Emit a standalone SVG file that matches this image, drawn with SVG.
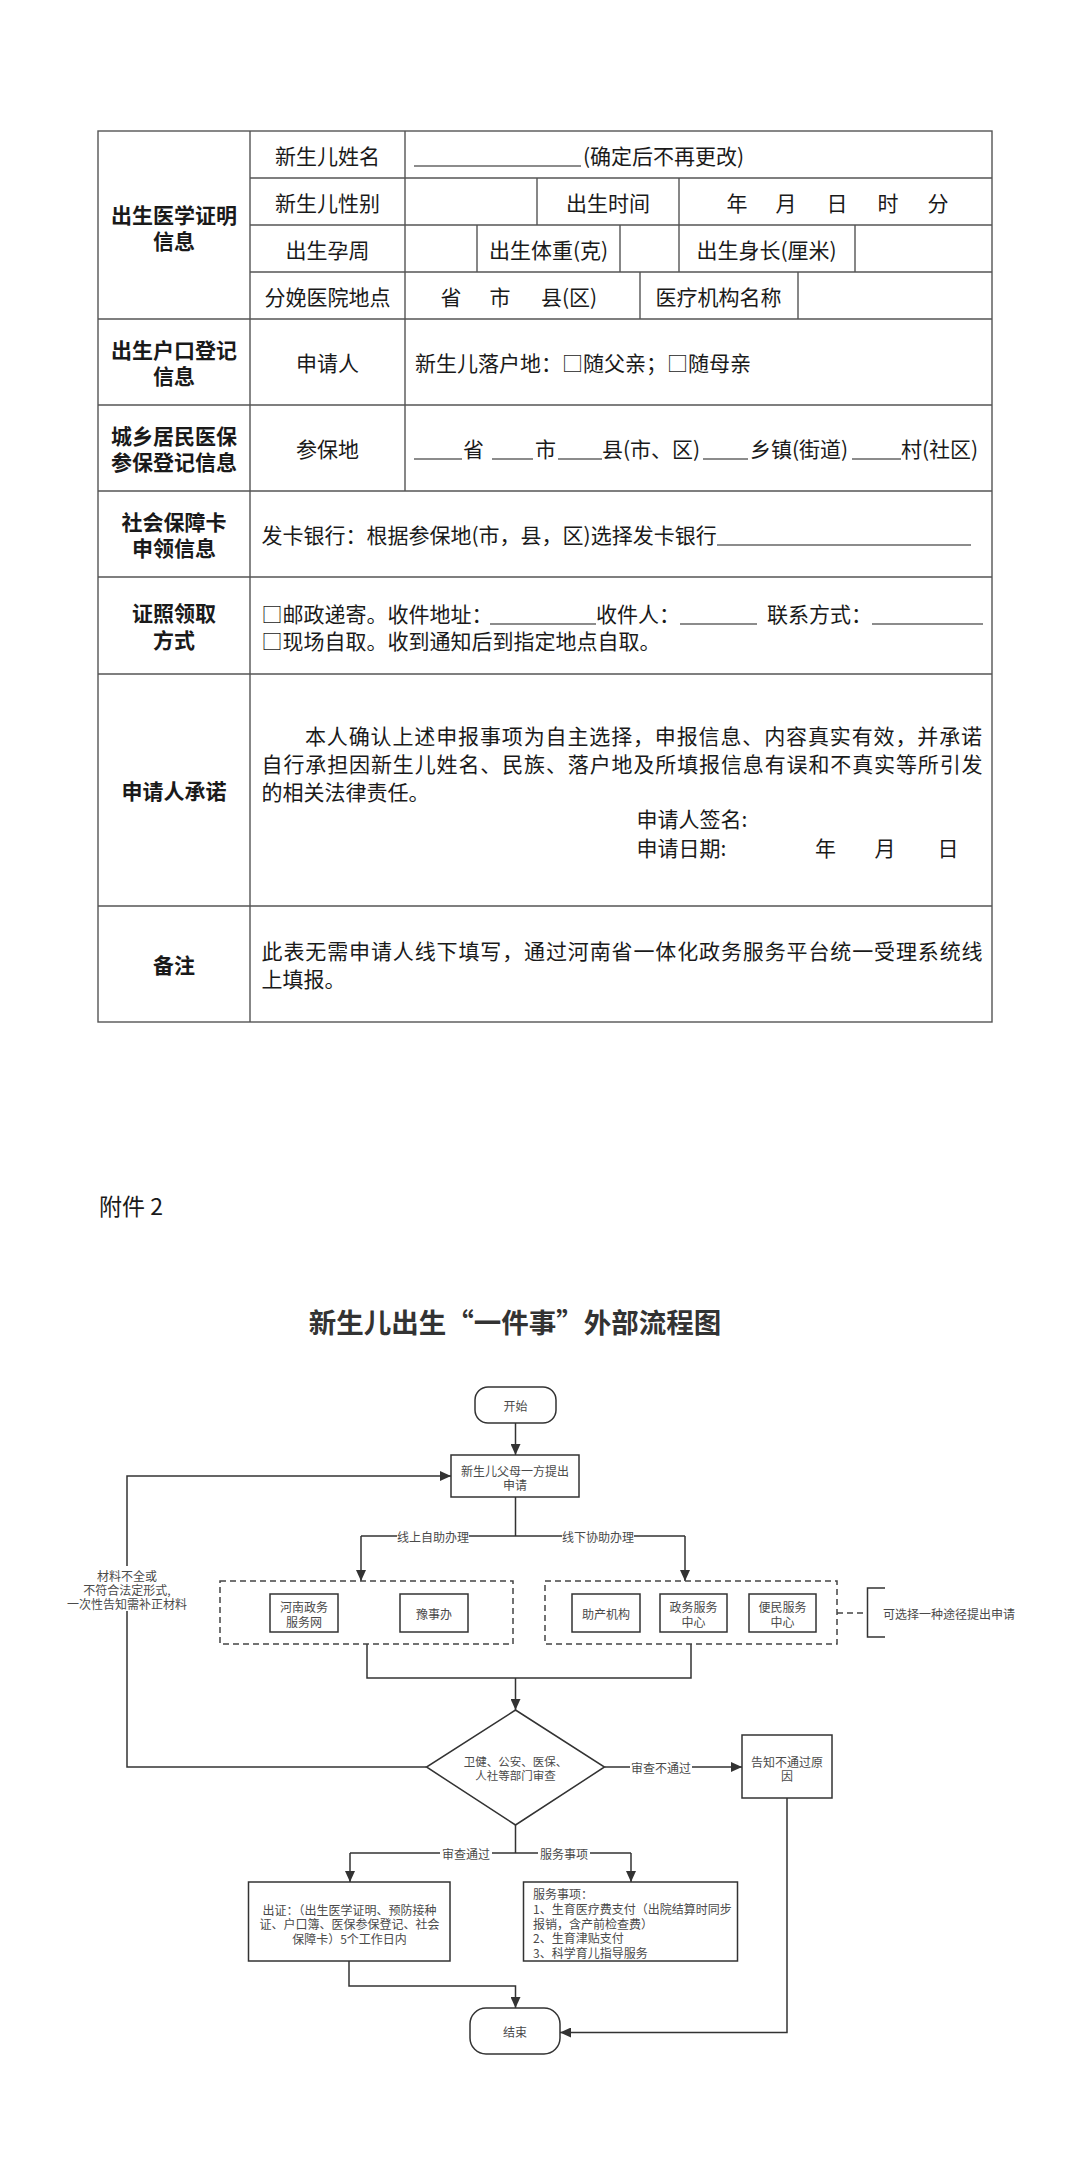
<svg xmlns="http://www.w3.org/2000/svg" width="1080" height="2167" viewBox="0 0 1080 2167">
<style>
text { font-family: "Noto Sans CJK SC", "Liberation Sans", sans-serif; dominant-baseline: central; }
.t { font-size: 21px; fill: #1a1a1a; }
.b { font-weight: bold; }
.m { text-anchor: middle; }
.grid { stroke: #555; stroke-width: 1.4; fill: none; }
.ul { stroke: #1a1a1a; stroke-width: 1.1; }
.f { font-size: 12px; fill: #4a4a4a; }
.node { fill: #fff; stroke: #333; stroke-width: 1.5; }
.dash { fill: none; stroke: #444; stroke-width: 1.5; stroke-dasharray: 6 4; }
.edge { fill: none; stroke: #333; stroke-width: 1.5; }
.lbg { fill: #fff; }
</style>
<defs>
<marker id="arr" markerUnits="userSpaceOnUse" markerWidth="12" markerHeight="10" refX="11" refY="5" orient="auto">
<path d="M0,0 L11,5 L0,10 Z" fill="#333"/>
</marker>
</defs>
<rect width="1080" height="2167" fill="#fff"/>

<g id="form-table">
<rect class="grid" x="98" y="131" width="894" height="891"/>
<path class="grid" d="M98,319H992 M98,405H992 M98,491H992 M98,577H992 M98,674H992 M98,906H992 M250,178H992 M250,225H992 M250,272H992 M250,131V1022 M405,131V491 M537,178V225 M679,178V225 M477,225V272 M620,225V272 M679,225V272 M855,225V272 M640,272V319 M798,272V319"/>

<text class="t b m" x="174" y="214">出生医学证明</text>
<text class="t b m" x="174" y="240">信息</text>
<text class="t m" x="327.5" y="155">新生儿姓名</text>
<line class="ul" x1="414" y1="166" x2="581" y2="166"/>
<text class="t" x="583" y="155">(确定后不再更改)</text>
<text class="t m" x="327.5" y="201.5">新生儿性别</text>
<text class="t m" x="608" y="201.5">出生时间</text>
<text class="t m" x="737" y="201.5">年</text>
<text class="t m" x="786" y="201.5">月</text>
<text class="t m" x="837" y="201.5">日</text>
<text class="t m" x="888" y="201.5">时</text>
<text class="t m" x="938" y="201.5">分</text>
<text class="t m" x="327.5" y="248.5">出生孕周</text>
<text class="t m" x="548.5" y="248.5">出生体重(克)</text>
<text class="t m" x="766.5" y="248.5">出生身长(厘米)</text>
<text class="t m" x="327.5" y="295.5">分娩医院地点</text>
<text class="t m" x="451" y="295.5">省</text>
<text class="t m" x="500" y="295.5">市</text>
<text class="t" x="541" y="295.5">县(区)</text>
<text class="t m" x="718.5" y="295.5">医疗机构名称</text>

<text class="t b m" x="174" y="349">出生户口登记</text>
<text class="t b m" x="174" y="375">信息</text>
<text class="t m" x="327.5" y="362">申请人</text>
<text class="t" x="415" y="362">新生儿落户地：□随父亲；□随母亲</text>

<text class="t b m" x="174" y="435">城乡居民医保</text>
<text class="t b m" x="174" y="461">参保登记信息</text>
<text class="t m" x="327.5" y="448">参保地</text>
<path class="ul" d="M414,459H462 M492,459H533 M558,459H602 M703,459H748 M852,459H901"/>
<text class="t" x="463" y="448">省</text>
<text class="t" x="535" y="448">市</text>
<text class="t" x="602" y="448">县(市、区)</text>
<text class="t" x="750" y="448">乡镇(街道)</text>
<text class="t" x="901" y="448">村(社区)</text>

<text class="t b m" x="174" y="521">社会保障卡</text>
<text class="t b m" x="174" y="547">申领信息</text>
<text class="t" x="261.5" y="534">发卡银行：根据参保地(市，县，区)选择发卡银行</text>
<line class="ul" x1="717" y1="545" x2="971" y2="545"/>

<text class="t b m" x="174" y="612">证照领取</text>
<text class="t b m" x="174" y="639">方式</text>
<text class="t" x="261.5" y="613">□邮政递寄。收件地址：</text>
<line class="ul" x1="490" y1="624" x2="596" y2="624"/>
<text class="t" x="596" y="613">收件人：</text>
<line class="ul" x1="680" y1="624" x2="757" y2="624"/>
<text class="t" x="767" y="613">联系方式：</text>
<line class="ul" x1="872" y1="624" x2="983" y2="624"/>
<text class="t" x="261.5" y="640">□现场自取。收到通知后到指定地点自取。</text>

<text class="t b m" x="174" y="790">申请人承诺</text>
<text class="t" x="305" y="735" textLength="677" lengthAdjust="spacing">本人确认上述申报事项为自主选择，申报信息、内容真实有效，并承诺</text>
<text class="t" x="261.5" y="763" textLength="721" lengthAdjust="spacing">自行承担因新生儿姓名、民族、落户地及所填报信息有误和不真实等所引发</text>
<text class="t" x="261.5" y="791">的相关法律责任。</text>
<text class="t" x="636.5" y="818">申请人签名:</text>
<text class="t" x="636.5" y="847">申请日期:</text>
<text class="t m" x="825.5" y="847">年</text>
<text class="t m" x="885" y="847">月</text>
<text class="t m" x="948" y="847">日</text>

<text class="t b m" x="174" y="964">备注</text>
<text class="t" x="261.5" y="950" textLength="721" lengthAdjust="spacing">此表无需申请人线下填写，通过河南省一体化政务服务平台统一受理系统线</text>
<text class="t" x="261.5" y="978">上填报。</text>
</g>

<text x="99" y="1205" style="font-size:23px;fill:#1a1a1a">附件 2</text>
<text x="515" y="1321" class="m" style="font-size:27.5px;font-weight:bold;fill:#333">新生儿出生“一件事”外部流程图</text>

<g id="connectors">
<path class="edge" d="M515.5,1423V1455" marker-end="url(#arr)"/>
<path class="edge" d="M515.5,1497V1536 M361,1536H685"/>
<path class="edge" d="M361,1536V1581" marker-end="url(#arr)"/>
<path class="edge" d="M685,1536V1581" marker-end="url(#arr)"/>
<rect class="lbg" x="397" y="1528" width="72" height="16"/>
<text class="f m" x="433" y="1536">线上自助办理</text>
<rect class="lbg" x="562" y="1528" width="72" height="16"/>
<text class="f m" x="598" y="1536">线下协助办理</text>
<path class="edge" d="M367,1644V1678H691V1644 M515.5,1678V1710" marker-end="url(#arr)"/>
<path class="edge" d="M426.5,1767H127V1476H451" marker-end="url(#arr)"/>
<rect class="lbg" x="64" y="1566" width="126" height="45"/>
<text class="f m" x="127" y="1575">材料不全或</text>
<text class="f m" x="127" y="1589">不符合法定形式,</text>
<text class="f m" x="127" y="1603">一次性告知需补正材料</text>
<path class="edge" d="M604.5,1767H742" marker-end="url(#arr)"/>
<rect class="lbg" x="630" y="1759" width="62" height="16"/>
<text class="f m" x="661" y="1767">审查不通过</text>
<path class="edge" d="M787,1798V2032.5H560" marker-end="url(#arr)"/>
<path class="edge" d="M515.5,1825V1853 M350,1853H631"/>
<path class="edge" d="M350,1853V1882" marker-end="url(#arr)"/>
<path class="edge" d="M631,1853V1882" marker-end="url(#arr)"/>
<rect class="lbg" x="440" y="1845" width="52" height="16"/>
<text class="f m" x="466" y="1853">审查通过</text>
<rect class="lbg" x="538" y="1845" width="52" height="16"/>
<text class="f m" x="564" y="1853">服务事项</text>
<path class="edge" d="M349,1961V1986H515.5V2008" marker-end="url(#arr)"/>
<path class="dash" d="M837,1613H867"/>
<path class="edge" d="M885,1588H867.5V1637H885"/>
</g>

<g id="start">
<rect class="node" x="475" y="1387" width="81" height="36" rx="13"/>
<text class="f m" x="515.5" y="1405">开始</text>
</g>
<g id="apply">
<rect class="node" x="451" y="1455" width="128" height="42"/>
<text class="f m" x="515" y="1470">新生儿父母一方提出</text>
<text class="f m" x="515" y="1484">申请</text>
</g>
<g id="online-group">
<rect class="dash" x="220" y="1581" width="293" height="63"/>
<g id="henan-web">
<rect class="node" x="270" y="1594" width="68" height="38"/>
<text class="f m" x="304" y="1606">河南政务</text>
<text class="f m" x="304" y="1621">服务网</text>
</g>
<g id="yushiban">
<rect class="node" x="400" y="1594" width="68" height="38"/>
<text class="f m" x="434" y="1613">豫事办</text>
</g>
</g>
<g id="offline-group">
<rect class="dash" x="545" y="1581" width="292" height="63"/>
<g id="midwifery">
<rect class="node" x="572" y="1594" width="68" height="38"/>
<text class="f m" x="606" y="1613">助产机构</text>
</g>
<g id="gov-center">
<rect class="node" x="660" y="1594" width="67" height="38"/>
<text class="f m" x="693.5" y="1606">政务服务</text>
<text class="f m" x="693.5" y="1621">中心</text>
</g>
<g id="conv-center">
<rect class="node" x="749" y="1594" width="67" height="38"/>
<text class="f m" x="782.5" y="1606">便民服务</text>
<text class="f m" x="782.5" y="1621">中心</text>
</g>
</g>
<g id="note-choose">
<text class="f" x="883" y="1613">可选择一种途径提出申请</text>
</g>
<g id="review">
<polygon class="node" points="515.5,1710 604.5,1767 515.5,1825 426.5,1767"/>
<text class="f m" x="515.5" y="1761" style="font-size:11.5px">卫健、公安、医保、</text>
<text class="f m" x="515.5" y="1775" style="font-size:11.5px">人社等部门审查</text>
</g>
<g id="reject">
<rect class="node" x="742" y="1735" width="90" height="63"/>
<text class="f m" x="787" y="1761">告知不通过原</text>
<text class="f m" x="787" y="1775">因</text>
</g>
<g id="issue">
<rect class="node" x="248.5" y="1882" width="201.5" height="79"/>
<text class="f m" x="349.5" y="1909">出证：（出生医学证明、预防接种</text>
<text class="f m" x="349.5" y="1923.5">证、户口簿、医保参保登记、社会</text>
<text class="f m" x="349.5" y="1938">保障卡）5个工作日内</text>
</g>
<g id="services">
<rect class="node" x="523.5" y="1882" width="214" height="79"/>
<text class="f" x="533" y="1893">服务事项：</text>
<text class="f" x="533" y="1908">1、生育医疗费支付（出院结算时同步</text>
<text class="f" x="533" y="1923">报销，含产前检查费）</text>
<text class="f" x="533" y="1937.5">2、生育津贴支付</text>
<text class="f" x="533" y="1952">3、科学育儿指导服务</text>
</g>
<g id="end">
<rect class="node" x="470" y="2008" width="90" height="46" rx="16"/>
<text class="f m" x="515" y="2031">结束</text>
</g>
</svg>
